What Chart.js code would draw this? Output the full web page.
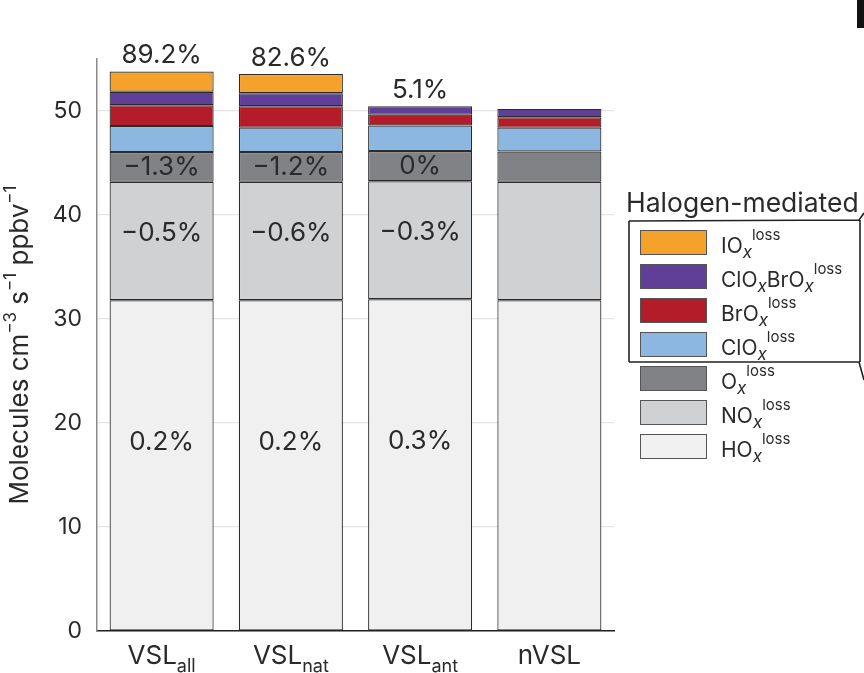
<!DOCTYPE html>
<html>
<head>
<meta charset="utf-8">
<script src="https://cdn.jsdelivr.net/npm/chart.js@4.4.1/dist/chart.umd.min.js"></script>
<style>
  html,body{margin:0;padding:0;background:#fff;}
  #wrap{position:relative;width:864px;height:673px;}
  #tag{position:absolute;left:857px;top:0;width:7px;height:28px;background:#111;}
</style>
</head>
<body>
<div id="wrap">
  <canvas id="c" width="864" height="673"></canvas>
  <div id="tag"></div>
</div>
<script>
// ---------- DATA ----------
const categories = ['VSL_all', 'VSL_nat', 'VSL_ant', 'nVSL'];
const seriesNames = ['HOx', 'NOx', 'Ox', 'ClOx', 'BrOx', 'ClOxBrOx', 'IOx'];
const HOx      = [31.8, 31.8, 31.9, 31.8];
const NOx      = [11.4, 11.4, 11.35, 11.4];
const Ox       = [2.85, 2.85, 2.9, 2.9];
const ClOx     = [2.5, 2.35, 2.45, 2.3];
const BrOx     = [2.0, 2.05, 1.05, 1.0];
const ClOxBrOx = [1.3, 1.25, 0.8, 0.8];
const IOx      = [1.95, 1.85, null, null];
const topLabels = ['89.2%', '82.6%', '5.1%', ''];
const OxLabels  = ['\u22121.3%', '\u22121.2%', '0%', ''];
const NOxLabels = ['\u22120.5%', '\u22120.6%', '\u22120.3%', ''];
const HOxLabels = ['0.2%', '0.2%', '0.3%', ''];
const yTicks = [0, 10, 20, 30, 40, 50];
const legendTitle = 'Halogen-mediated';
const yTitleParts = [['Molecules cm', 'n'], ['\u22123', 'sup'], [' s', 'n'], ['\u22121', 'sup'], [' ppbv', 'n'], ['\u22121', 'sup']];

// ---------- STYLE ----------
const colorMap = {
  HOx: '#f0f0f0', NOx: '#d0d1d3', Ox: '#818285', ClOx: '#8bb7e1',
  BrOx: '#b51c2a', ClOxBrOx: '#5f3f98', IOx: '#f5a22d'
};
const seriesData = [HOx, NOx, Ox, ClOx, BrOx, ClOxBrOx, IOx];
const FONT = 'Inter';
const TXT = '#2a2a2a';

const datasets = seriesNames.map((n, i) => ({
  label: n + ' loss',
  data: seriesData[i],
  backgroundColor: colorMap[n],
  borderColor: '#2b2b2b',
  borderWidth: 1.2,
  borderSkipped: false,
  barPercentage: 0.805,
  categoryPercentage: 1.0
}));

function parseRich(name) {
  const parts = [];
  let buf = '';
  for (const ch of name) {
    if (ch === 'x') { if (buf) parts.push([buf, 'n']); parts.push(['x', 'sub']); buf = ''; }
    else buf += ch;
  }
  if (buf) parts.push([buf, 'n']);
  return parts;
}

function drawRich(ctx, parts, x, y, sizes, align) {
  const fontFor = t => t === 'n' ? `400 ${sizes.n}px ${FONT}` :
                       t === 'sub' ? `${sizes.subItalic ? 'italic ' : ''}400 ${sizes.sub}px ${FONT}` :
                       `400 ${sizes.sup}px ${FONT}`;
  let total = 0;
  parts.forEach(([s, t]) => { ctx.font = fontFor(t); total += ctx.measureText(s).width; });
  let cx = align === 'center' ? x - total / 2 : x;
  ctx.textAlign = 'left';
  ctx.textBaseline = 'alphabetic';
  parts.forEach(([s, t]) => {
    ctx.font = fontFor(t);
    const dy = t === 'sub' ? sizes.subDy : t === 'sup' ? sizes.supDy : 0;
    ctx.fillText(s, cx, y + dy);
    cx += ctx.measureText(s).width + (t === 'sub' ? (sizes.subGap || 0) : 0);
  });
  return total;
}

const decor = {
  id: 'decor',
  afterDatasetsDraw(chart) {
    const ctx = chart.ctx;
    ctx.save();
    ctx.fillStyle = TXT;
    ctx.textAlign = 'center';
    ctx.textBaseline = 'middle';
    ctx.font = `400 26px ${FONT}`;
    const segLabel = (dsIndex, labels, frac) => {
      const meta = chart.getDatasetMeta(dsIndex);
      meta.data.forEach((bar, j) => {
        if (!labels[j]) return;
        const y = bar.base - frac * (bar.base - bar.y);
        ctx.fillText(labels[j], bar.x, y);
      });
    };
    segLabel(0, HOxLabels, 0.57);
    segLabel(1, NOxLabels, 0.57);
    segLabel(2, OxLabels, 0.5);
    ctx.textBaseline = 'alphabetic';
    categories.forEach((c, j) => {
      if (!topLabels[j]) return;
      let top = Infinity, x = 0;
      chart.data.datasets.forEach((d, i) => {
        const v = d.data[j];
        if (v === null || v === undefined) return;
        const b = chart.getDatasetMeta(i).data[j];
        if (b.y < top) { top = b.y; x = b.x; }
      });
      ctx.fillText(topLabels[j], x, top - 8);
    });
    ctx.restore();
  },
  afterDraw(chart) {
    const ctx = chart.ctx;
    const xs = chart.scales.x;
    ctx.save();
    ctx.fillStyle = TXT;
    categories.forEach((c, j) => {
      const [main, sub] = c.split('_');
      const parts = [[main, 'n']];
      if (sub) parts.push([sub, 'sub']);
      drawRich(ctx, parts, xs.getPixelForValue(j), 664,
        {n: 26, sub: 18, sup: 14, subDy: 8, supDy: -12}, 'center');
    });
    ctx.save();
    ctx.translate(28, (chart.chartArea.top + chart.chartArea.bottom) / 2);
    ctx.rotate(-Math.PI / 2);
    drawRich(ctx, yTitleParts, 0, 0, {n: 26, sub: 17, sup: 17, subDy: 6, supDy: -12}, 'center');
    ctx.restore();
    ctx.font = `400 26.5px ${FONT}`;
    ctx.textAlign = 'left';
    ctx.textBaseline = 'alphabetic';
    ctx.fillText(legendTitle, 626, 212);
    const order = seriesNames.map((n, i) => i).reverse();
    order.forEach((i, k) => {
      const n = seriesNames[i];
      const top = 230 + k * 34;
      ctx.fillStyle = colorMap[n];
      ctx.fillRect(640, top, 67, 25);
      ctx.strokeStyle = '#555';
      ctx.lineWidth = 1;
      ctx.strokeRect(640.5, top + 0.5, 66, 24);
      ctx.fillStyle = TXT;
      const parts = parseRich(n).concat([['loss', 'sup']]);
      drawRich(ctx, parts, 721, top + 23,
        {n: 21, sub: 17, sup: 15, subDy: 5, supDy: -13, subItalic: true, subGap: 0}, 'left');
    });
    ctx.strokeStyle = '#222';
    ctx.lineWidth = 1.6;
    ctx.beginPath();
    ctx.moveTo(629, 221); ctx.lineTo(859, 220); ctx.lineTo(864, 213);
    ctx.moveTo(860, 220); ctx.lineTo(860, 362);
    ctx.moveTo(629, 362); ctx.lineTo(859, 362); ctx.lineTo(864, 380);
    ctx.moveTo(629, 221); ctx.lineTo(629, 362);
    ctx.stroke();
    ctx.restore();
  }
};

new Chart(document.getElementById('c'), {
  type: 'bar',
  data: { labels: categories, datasets },
  options: {
    responsive: false,
    animation: false,
    devicePixelRatio: 1,
    layout: { padding: { top: 59, right: 250, bottom: 34, left: 0 } },
    plugins: { legend: { display: false }, tooltip: { enabled: false } },
    scales: {
      x: {
        stacked: true,
        grid: { display: false },
        border: { color: '#222', width: 1.5 },
        ticks: { display: false }
      },
      y: {
        stacked: true,
        min: 0, max: 55,
        afterBuildTicks: s => { s.ticks = yTicks.map(v => ({ value: v })); },
        afterFit: s => { s.width = 97; },
        ticks: { padding: 15, color: TXT, font: { family: FONT, size: 23 } },
        grid: { color: '#e4e4e4', lineWidth: 1.2, drawTicks: false },
        border: { color: '#8a8a8a', width: 1.5 }
      }
    }
  },
  plugins: [decor]
});
</script>
</body>
</html>
